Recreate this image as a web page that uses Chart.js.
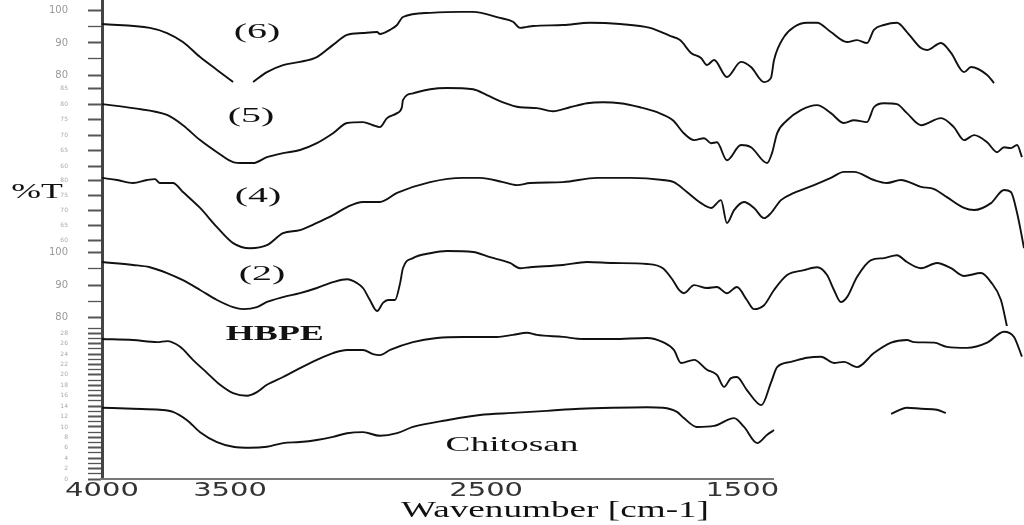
<!DOCTYPE html>
<html>
<head>
<meta charset="utf-8">
<script src="https://cdn.jsdelivr.net/npm/chart.js@4.4.0/dist/chart.umd.min.js"></script>
<style>
  html, body { margin: 0; background: #fff; }
  #wrap { width: 1024px; height: 525px; }
</style>
</head>
<body>
<div id="wrap"><canvas id="ftir"></canvas></div>
<script>
// [wavenumber cm-1, %T], top to bottom
const spec6 = [[4000,95.9],[3813,94.7],[3746,93.1],[3684,90.3],[3617,85.6],[3551,81.6],[3488,77.8],[3449,null],[3410,77.8],[3356,80.9],[3293,83.1],[3227,84.1],[3161,85.6],[3098,89.4],[3043,92.5],[2981,93.1],[2926,93.4],[2915,92.8],[2875,94.1],[2848,95.6],[2825,98.1],[2719,99.4],[2602,99.7],[2551,99.7],[2446,97.8],[2395,96.6],[2368,94.7],[2341,95.0],[2317,95.3],[2200,95.6],[2095,96.3],[1977,95.9],[1860,94.7],[1782,92.2],[1743,90.9],[1700,86.9],[1661,85.3],[1638,83.1],[1610,84.7],[1560,79.4],[1505,84.1],[1466,82.5],[1415,77.8],[1388,79.1],[1376,84.7],[1337,91.9],[1298,95.0],[1247,96.3],[1208,96.3],[1154,93.4],[1091,90.3],[1052,90.9],[1013,90.0],[986,94.1],[947,95.6],[896,96.3],[857,93.4],[802,88.4],[779,87.8],[724,90.0],[685,86.9],[634,80.9],[607,82.5],[544,80.0],[517,77.5]];

const spec5 = [[4000,80.0],[3879,78.7],[3746,76.5],[3684,73.2],[3617,68.4],[3551,64.5],[3488,61.3],[3449,61.0],[3410,61.0],[3356,62.9],[3293,64.2],[3227,65.2],[3161,67.4],[3098,70.6],[3043,73.9],[2981,74.2],[2942,73.2],[2915,72.6],[2887,75.5],[2848,77.1],[2829,79.0],[2825,81.3],[2786,83.5],[2719,84.8],[2653,85.2],[2551,84.8],[2497,82.9],[2434,80.6],[2368,79.0],[2302,78.7],[2239,77.7],[2173,79.0],[2106,80.3],[2044,80.6],[1977,80.3],[1899,79.0],[1833,77.4],[1771,74.8],[1728,70.6],[1688,68.4],[1649,69.0],[1622,67.4],[1599,67.7],[1560,61.9],[1505,66.8],[1466,66.1],[1403,61.0],[1384,64.2],[1364,70.6],[1325,74.8],[1271,78.1],[1208,79.7],[1154,77.1],[1103,73.9],[1064,74.8],[1013,74.2],[986,79.0],[947,80.3],[896,80.0],[857,77.1],[802,73.2],[724,75.5],[674,72.6],[634,68.4],[595,70.0],[544,67.7],[505,64.5],[478,66.1],[451,65.8],[427,66.8],[408,62.9]];

const spec4 = [[4000,80.7],[3941,80.0],[3879,79.0],[3824,80.0],[3793,80.3],[3774,79.0],[3723,79.0],[3684,76.0],[3617,70.7],[3551,64.3],[3488,59.0],[3422,57.3],[3356,58.3],[3293,62.3],[3227,63.3],[3161,65.7],[3098,68.3],[3043,71.0],[2981,72.7],[2915,72.7],[2848,75.7],[2719,79.3],[2590,80.7],[2524,80.7],[2434,79.3],[2380,78.3],[2329,79.0],[2200,79.3],[2067,80.7],[1938,80.7],[1810,80.0],[1767,79.3],[1716,76.0],[1661,72.3],[1622,70.7],[1583,73.3],[1560,65.7],[1532,70.0],[1493,72.7],[1454,70.7],[1415,67.3],[1388,69.0],[1349,73.3],[1298,75.7],[1220,78.3],[1154,80.7],[1103,82.7],[1064,82.7],[986,80.0],[935,79.0],[881,80.0],[802,77.7],[751,77.0],[701,74.3],[634,70.7],[595,70.0],[529,72.3],[478,76.7],[451,76.0],[427,69.0],[408,61.0],[400,57.3]];

const spec2 = [[4000,97.1],[3879,96.2],[3813,95.5],[3746,93.7],[3684,91.5],[3617,88.5],[3551,85.4],[3488,83.2],[3449,82.6],[3395,83.2],[3356,84.8],[3293,86.3],[3227,87.5],[3161,89.1],[3098,90.9],[3043,91.8],[3004,90.6],[2981,89.1],[2954,85.4],[2926,82.0],[2903,84.5],[2883,85.4],[2856,85.4],[2836,90.6],[2825,95.2],[2786,98.3],[2719,99.8],[2653,100.5],[2551,100.2],[2485,98.6],[2407,96.8],[2368,95.2],[2329,95.5],[2200,96.2],[2106,97.1],[2005,96.8],[1872,96.5],[1810,95.2],[1771,91.5],[1747,88.5],[1728,87.5],[1688,90.0],[1638,89.1],[1599,89.4],[1560,87.5],[1521,89.4],[1482,85.4],[1454,82.6],[1415,83.8],[1376,88.5],[1325,93.1],[1259,94.6],[1208,95.5],[1169,93.1],[1142,88.5],[1115,84.8],[1091,86.3],[1052,92.5],[997,97.7],[947,98.3],[896,99.2],[857,97.1],[802,95.2],[740,96.8],[685,95.2],[634,92.8],[568,93.7],[529,90.9],[490,85.4],[466,77.1]];

const specHBPE = [[4000,26.9],[3879,26.7],[3785,26.3],[3746,26.5],[3695,25.4],[3645,22.9],[3590,20.4],[3539,18.1],[3488,16.5],[3434,16.0],[3395,16.7],[3356,18.1],[3293,19.6],[3227,21.3],[3161,22.9],[3098,24.2],[3043,24.8],[2981,24.8],[2942,24.0],[2915,23.8],[2875,24.8],[2786,26.3],[2692,27.1],[2590,27.3],[2458,27.3],[2395,27.7],[2341,28.1],[2302,27.7],[2200,27.3],[2122,26.9],[2005,26.9],[1872,27.1],[1810,26.3],[1767,24.8],[1739,22.3],[1688,22.9],[1638,21.0],[1599,20.0],[1571,17.7],[1544,19.4],[1521,19.6],[1482,17.1],[1425,14.2],[1388,18.5],[1364,21.5],[1310,22.5],[1247,23.3],[1193,23.5],[1142,22.3],[1103,22.5],[1052,21.5],[986,24.2],[919,26.2],[857,26.7],[829,26.3],[751,26.2],[701,25.4],[622,25.2],[544,26.2],[478,28.3],[439,27.3],[408,23.5]];

const specChitosan = [[4000,13.7],[3879,13.5],[3774,13.3],[3723,12.9],[3668,11.3],[3617,9.0],[3551,7.1],[3488,6.2],[3422,6.0],[3356,6.2],[3293,6.9],[3227,7.1],[3161,7.5],[3098,8.1],[3043,8.8],[2981,9.0],[2915,8.3],[2848,8.8],[2786,10.0],[2653,11.3],[2524,12.3],[2395,12.7],[2263,13.1],[2134,13.5],[2005,13.7],[1872,13.8],[1810,13.7],[1755,12.9],[1728,11.7],[1677,10.0],[1610,10.2],[1532,11.7],[1493,10.0],[1442,6.9],[1403,8.5],[1376,9.4],[1300,null],[919,12.5],[857,13.7],[802,13.5],[740,13.3],[705,12.7]];

const xTickLabels = [4000, 3500, 2500, 1500];
const xAxisEnd = 1376;

// [text, axis, wavenumber, value]
const notes = [
  ['(6)', 'y6', 3395, 93.1],
  ['(5)', 'y5', 3418, 75.8],
  ['(4)', 'y4', 3391, 74.3],
  ['(2)', 'y2', 3375, 93.1],
  ['HBPE', 'yHC', 3325, 27.7],
  ['Chitosan', 'yHC', 2399, 6.5]
];

const series = [
  ['y6', spec6], ['y5', spec5], ['y4', spec4], ['y2', spec2], ['yHC', specHBPE], ['yHC', specChitosan]
];

function stretchText(ctx, text, x, y, font, sx, color) {
  ctx.save();
  ctx.font = font;
  ctx.fillStyle = color || '#111';
  ctx.textAlign = 'center';
  ctx.textBaseline = 'middle';
  ctx.translate(x, y);
  ctx.scale(sx, 1);
  ctx.fillText(text, 0, 0);
  ctx.restore();
}

function section(min, max, step, order, height, every, size, color) {
  return {
    type: 'linear', position: 'left', stack: 'ftir', stackWeight: height, weight: order,
    min: min, max: max,
    border: { color: '#444', width: 3 },
    grid: {
      drawOnChartArea: false, tickLength: 14, tickColor: '#555',
      tickWidth: ctx => (ctx.tick && ctx.tick.value % every === 0) ? 2 : 1.3
    },
    ticks: {
      stepSize: step, includeBounds: false, autoSkip: false, padding: 20,
      color: color, font: { family: 'DejaVu Sans', size: size },
      callback: v => (v % every === 0 ? v : '')
    },
    afterFit: s => { s.width = 102; s.paddingTop = 0; s.paddingBottom = 0; }
  };
}

const textPlugin = {
  id: 'ftirText',
  afterDraw(chart) {
    const ctx = chart.ctx;
    const x = chart.scales.x;
    const area = chart.chartArea;
    // x axis line (cut short like the scan)
    ctx.save();
    ctx.strokeStyle = '#777';
    ctx.lineWidth = 2;
    ctx.beginPath();
    ctx.moveTo(x.getPixelForValue(4000) - 2, area.bottom);
    ctx.lineTo(x.getPixelForValue(xAxisEnd), area.bottom);
    ctx.stroke();
    ctx.restore();

    xTickLabels.forEach(v => {
      stretchText(ctx, String(v), x.getPixelForValue(v), area.bottom + 12, '20px "DejaVu Sans"', 1.45, '#333');
    });
    stretchText(ctx, 'Wavenumber [cm-1]', x.getPixelForValue(2231), area.bottom + 32, '24px "Liberation Serif"', 1.55, '#111');

    const y4 = chart.scales.y4;
    stretchText(ctx, '%T', area.left - 65, y4.getPixelForValue(75.7), '21px "Liberation Serif"', 1.7, '#111');

    notes.forEach(([text, axis, wn, val]) => {
      const y = chart.scales[axis];
      let font = '20px "Liberation Serif"', sx = 2.0;
      if (text === 'HBPE') { font = 'bold 20px "Liberation Serif"'; sx = 1.8; }
      if (text === 'Chitosan') { font = '22px "Liberation Serif"'; sx = 1.7; }
      stretchText(ctx, text, x.getPixelForValue(wn), y.getPixelForValue(val), font, sx, '#111');
    });
  }
};

new Chart(document.getElementById('ftir'), {
  type: 'line',
  data: {
    datasets: series.map(([axis, pts]) => ({
      data: pts.map(([wn, t]) => ({ x: wn, y: t })),
      yAxisID: axis,
      borderColor: '#111',
      borderWidth: 1.9,
      pointRadius: 0,
      cubicInterpolationMode: 'monotone',
      spanGaps: false,
      fill: false
    }))
  },
  options: {
    responsive: true,
    maintainAspectRatio: false,
    animation: false,
    layout: { padding: 0 },
    plugins: { legend: { display: false }, tooltip: { enabled: false } },
    scales: {
      x: {
        type: 'linear', reverse: true, min: 400, max: 4000,
        border: { display: false }, grid: { display: false },
        ticks: { display: false },
        afterFit: s => { s.height = 46; s.paddingLeft = 0; s.paddingRight = 0; }
      },
      y6: section(77.2, 103.4, 5, 5, 84, 10, 10, '#999'),
      y5: section(59.4, 86.5, 5, 4, 84, 5, 6, '#aaa'),
      y4: section(56.7, 84.0, 5, 3, 82, 5, 6, '#aaa'),
      y2: section(77.4, 100.8, 5, 2, 76, 10, 10, '#999'),
      yHC: section(0, 29.4, 1, 1, 153, 2, 6, '#aaa')
    }
  },
  plugins: [textPlugin]
});
</script>
</body>
</html>
